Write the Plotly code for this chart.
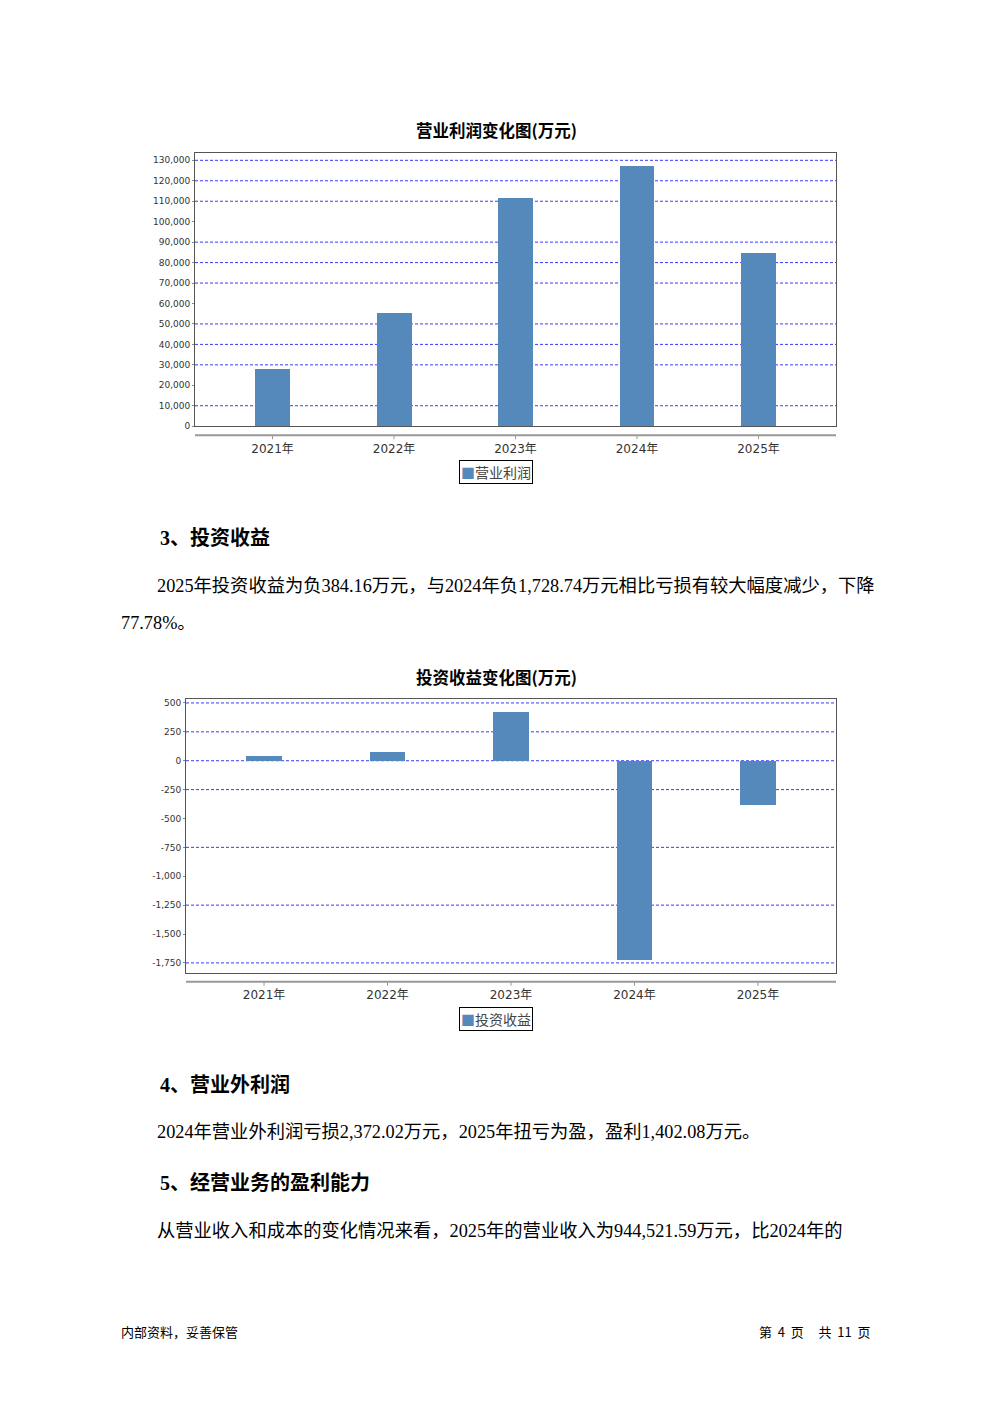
import plotly.graph_objects as go

# page is rendered with an 8px body margin; figure is sized/offset to compensate
OFF = 8
W, H = 992 - OFF, 1403 - OFF

# ---------------- data ----------------
years = ["2021年", "2022年", "2023年", "2024年", "2025年"]
op_profit = [27750, 55000, 111500, 127100, 84700]          # 营业利润 (万元)
invest_income = [43, 78, 422, -1728.74, -384.16]           # 投资收益 (万元)

op_ticks = [0, 10000, 20000, 30000, 40000, 50000, 60000, 70000, 80000, 90000,
            100000, 110000, 120000, 130000]
op_ticklabels = ["0", "10,000", "20,000", "30,000", "40,000", "50,000", "60,000",
                 "70,000", "80,000", "90,000", "100,000", "110,000", "120,000", "130,000"]
op_grid = [10000, 30000, 40000, 50000, 70000, 80000, 90000, 110000, 120000, 130000]

inv_ticks = [500, 250, 0, -250, -500, -750, -1000, -1250, -1500, -1750]
inv_ticklabels = ["500", "250", "0", "-250", "-500", "-750", "-1,000", "-1,250", "-1,500", "-1,750"]
inv_grid = [500, 250, 0, -250, -750, -1250, -1750]

BAR = "#5589BC"
GRID = "#3a3aff"
BOX = "#555555"

def px_x(px):
    return (px - OFF) / W

def px_y(py):
    return 1 - (py - OFF) / H

fig = go.Figure()

fig.add_trace(go.Bar(x=list(range(len(years))), y=op_profit, marker_color=BAR,
                     marker_line_width=0, width=0.288, xaxis="x", yaxis="y",
                     showlegend=False, name="营业利润"))
fig.add_trace(go.Bar(x=list(range(len(years))), y=invest_income, marker_color=BAR,
                     marker_line_width=0, width=0.288, xaxis="x2", yaxis="y2",
                     showlegend=False, name="投资收益"))

tickfont_y = dict(family="DejaVu Sans", size=9, color="#333333")
tickfont_x = dict(family="DejaVu Sans, Noto Sans CJK SC", size=12, color="#333333")

# chart geometry (reference pixels)
c1 = dict(x0=195, x1=836, y0=153, y1=427, axis_y=436, title_y=130, legend_y=473.5)
c2 = dict(x0=186, x1=836, y0=701, y1=976, axis_y=985, title_y=679, legend_y=1022.5)

fig.update_layout(
    width=W, height=H, margin=dict(l=0, r=0, t=0, b=0),
    paper_bgcolor="white", plot_bgcolor="white",
    bargap=0,
    xaxis=dict(domain=[px_x(c1["x0"]), px_x(c1["x1"])], range=[-0.638, 4.638],
               tickvals=list(range(len(years))), ticktext=years, tickfont=tickfont_x,
               showgrid=False, zeroline=False, showline=True, mirror=True,
               linecolor=BOX, linewidth=1, ticks="", ticklabelstandoff=11),
    yaxis=dict(domain=[px_y(c1["y1"]), px_y(c1["y0"])], range=[0, 133400],
               tickvals=op_ticks, ticktext=op_ticklabels, tickfont=tickfont_y,
               showgrid=False, zeroline=False, showline=True, mirror=True,
               linecolor=BOX, linewidth=1, ticks="outside", ticklen=2, tickcolor="#888"),
    xaxis2=dict(domain=[px_x(c2["x0"]), px_x(c2["x1"])], range=[-0.632, 4.632],
                anchor="y2",
                tickvals=list(range(len(years))), ticktext=years, tickfont=tickfont_x,
                showgrid=False, zeroline=False, showline=True, mirror=True,
                linecolor=BOX, linewidth=1, ticks="", ticklabelstandoff=11),
    yaxis2=dict(domain=[px_y(c2["y1"]), px_y(c2["y0"])], range=[-1836, 534],
                anchor="x2",
                tickvals=inv_ticks, ticktext=inv_ticklabels, tickfont=tickfont_y,
                showgrid=False, zeroline=False, showline=True, mirror=True,
                linecolor=BOX, linewidth=1, ticks="outside", ticklen=2, tickcolor="#888"),
)

shapes = []
# gridlines
for v in op_grid:
    shapes.append(dict(type="line", xref="x domain", yref="y", x0=0, x1=1, y0=v, y1=v,
                       line=dict(color=GRID, width=1, dash="3px,2px"), layer="below"))
for v in inv_grid:
    shapes.append(dict(type="line", xref="x2 domain", yref="y2", x0=0, x1=1, y0=v, y1=v,
                       line=dict(color=GRID, width=1, dash="3px,2px"), layer="below"))

# separate category axis lines below the plot boxes, with tick marks
for c, xr in ((c1, "x"), (c2, "x2")):
    shapes.append(dict(type="line", xref="paper", yref="paper",
                       x0=px_x(c["x0"]), x1=px_x(c["x1"]),
                       y0=px_y(c["axis_y"]), y1=px_y(c["axis_y"]),
                       line=dict(color="#999999", width=2)))
    for i in range(len(years)):
        shapes.append(dict(type="line", xref=xr, yref="paper", x0=i, x1=i,
                           y0=px_y(c["axis_y"]), y1=px_y(c["axis_y"] + 4),
                           line=dict(color="#999999", width=1)))

annotations = []
title_font = dict(family="Noto Sans CJK SC", size=16.5, color="black", weight="bold")
for c, title, lg in ((c1, "营业利润变化图(万元)", "营业利润"), (c2, "投资收益变化图(万元)", "投资收益")):
    annotations.append(dict(text=title, xref="paper", yref="paper", x=px_x(496), y=px_y(c["title_y"]),
                            xanchor="center", yanchor="middle", showarrow=False, font=title_font))
    annotations.append(dict(text=f'<span style="color:{BAR}">■</span>{lg}', xref="paper", yref="paper",
                            x=px_x(496), y=px_y(c["legend_y"]), xanchor="center", yanchor="middle",
                            showarrow=False, bordercolor="black", borderwidth=1, borderpad=1,
                            font=dict(family="Noto Sans CJK SC", size=14, color="#444444")))

head_font = dict(family="Liberation Serif, Noto Sans CJK SC", size=20, color="black", weight="bold")
body_font = dict(family="Liberation Serif, Noto Sans CJK SC", size=18.3, color="black")
foot_font = dict(family="Noto Sans CJK SC", size=13, color="black")

NB = "\u00a0"
texts = [
    ("3、投资收益", 158, 539, head_font, "left"),
    ("2025年投资收益为负384.16万元，与2024年负1,728.74万元相比亏损有较大幅度减少，下降", 155, 587, body_font, "left"),
    ("77.78%。", 119, 625, body_font, "left"),
    ("4、营业外利润", 158, 1088, head_font, "left"),
    ("2024年营业外利润亏损2,372.02万元，2025年扭亏为盈，盈利1,402.08万元。", 155, 1136, body_font, "left"),
    ("5、经营业务的盈利能力", 158, 1187, head_font, "left"),
    ("从营业收入和成本的变化情况来看，2025年的营业收入为944,521.59万元，比2024年的", 155, 1235, body_font, "left"),
    ("内部资料，妥善保管", 119, 1336, foot_font, "left"),
    (f"第{NB*2}4{NB*2}页{NB*5}共{NB*2}11{NB*2}页", 873, 1336, foot_font, "right"),
]
for t, x, y, f, anchor in texts:
    annotations.append(dict(text=t, xref="paper", yref="paper", x=px_x(x), y=px_y(y),
                            xanchor=anchor, yanchor="middle", showarrow=False, font=f))

fig.update_layout(shapes=shapes, annotations=annotations)

fig.write_html("out.html")
